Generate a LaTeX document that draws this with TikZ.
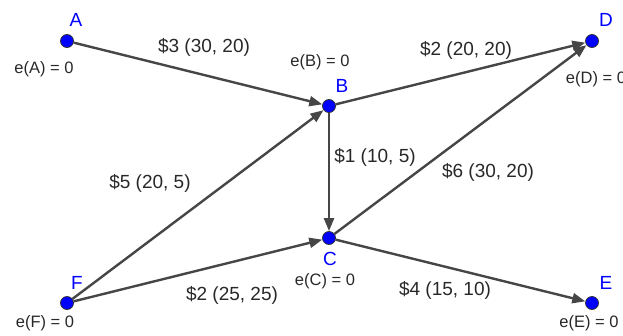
\documentclass[tikz,border=0pt]{standalone}
\usepackage{fontspec}
\setmainfont{Liberation Sans}
\usetikzlibrary{arrows.meta}
\definecolor{edgegray}{RGB}{70,70,70}
\definecolor{txtgray}{RGB}{40,40,40}
\definecolor{ptblue}{RGB}{0,0,255}
\begin{document}
\begin{tikzpicture}[x=1pt,y=-1pt,
  pt/.style={circle,fill=ptblue,draw=black!80,line width=0.8pt,inner sep=0pt,minimum size=13pt},
  ptname/.style={text=ptblue,font=\fontsize{19}{19}\selectfont,inner sep=0pt},
  exc/.style={text=txtgray,font=\fontsize{16.5}{16.5}\selectfont,inner sep=0pt},
  cost/.style={text=txtgray,font=\fontsize{19}{19}\selectfont,inner sep=0pt},
  arc/.style={draw=edgegray,line width=2.4pt,-{Triangle[length=13pt,width=10pt]}}
]
\useasboundingbox (0,0) rectangle (623,335);
\node[pt] (A) at (67,41) {};
\node[pt] (B) at (329,106) {};
\node[pt] (D) at (592,41) {};
\node[pt] (C) at (329,238) {};
\node[pt] (F) at (67,303) {};
\node[pt] (E) at (592,303) {};
\draw[arc] (A) -- (B);
\draw[arc] (B) -- (D);
\draw[arc] (B) -- (C);
\draw[arc] (C) -- (D);
\draw[arc] (F) -- (B);
\draw[arc] (F) -- (C);
\draw[arc] (C) -- (E);
\node[ptname] (lA) at (76,20) {A};
\node[ptname] (lB) at (342,86) {B};
\node[ptname] (lD) at (606,20) {D};
\node[ptname] (lC) at (330,259) {C};
\node[ptname] (lF) at (77,283) {F};
\node[ptname] (lE) at (606,283) {E};
\node[exc] (eA) at (44,69) {e(A) = 0};
\node[exc] (eB) at (320,62) {e(B) = 0};
\node[exc] (eD) at (596,79) {e(D) = 0};
\node[exc] (eC) at (325,281) {e(C) = 0};
\node[exc] (eF) at (45,323) {e(F) = 0};
\node[exc] (eE) at (589,323) {e(E) = 0};
\node[cost] (cAB) at (204,47) {\$3 (30, 20)};
\node[cost] (cBD) at (466,50) {\$2 (20, 20)};
\node[cost] (cBC) at (375,157) {\$1 (10, 5)};
\node[cost] (cCD) at (488,172) {\$6 (30, 20)};
\node[cost] (cFB) at (150,183) {\$5 (20, 5)};
\node[cost] (cFC) at (232,295) {\$2 (25, 25)};
\node[cost] (cCE) at (445,290) {\$4 (15, 10)};
\end{tikzpicture}
\end{document}
